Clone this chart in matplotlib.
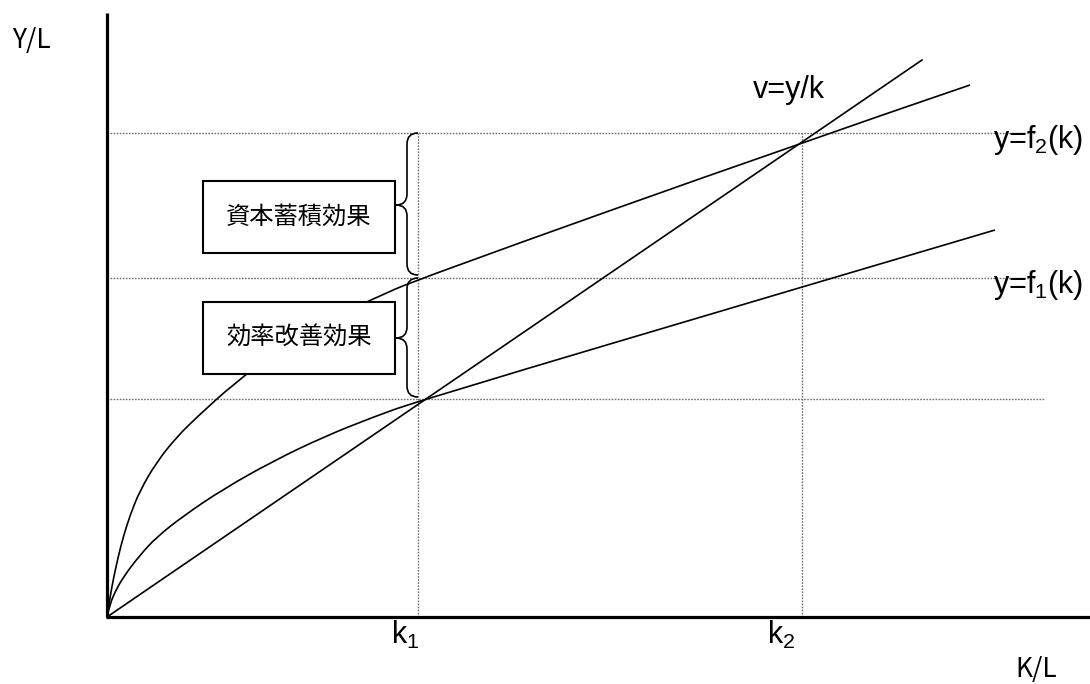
import matplotlib
matplotlib.use("Agg")
import matplotlib.pyplot as plt
from matplotlib.path import Path
from matplotlib.patches import PathPatch, Rectangle

plt.rcParams['mathtext.fontset'] = 'custom'
plt.rcParams['mathtext.rm'] = 'Liberation Sans'
plt.rcParams['mathtext.it'] = 'Liberation Sans'
plt.rcParams['mathtext.default'] = 'rm'

# ---------------- data ----------------
k1, k2 = 3.11, 6.95
level_low, level_mid, level_top = 2.18, 3.39, 4.84

k_f1 = [0, 0.03, 0.08, 0.163, 0.33, 0.497, 0.763, 1.163, 1.663, 2.163, 2.663, 3.11, 6.95, 8.88]
f1 = [0, 0.13, 0.25, 0.40, 0.62, 0.80, 1.01, 1.28, 1.56, 1.80, 2.00, 2.16, 3.30, 3.87]

k_f2 = [0, 0.03, 0.063, 0.113, 0.163, 0.23, 0.33, 0.497, 0.697, 0.90, 1.27,
        1.73, 2.23, 2.66, 3.11, 6.93, 8.63]
f2 = [0, 0.195, 0.377, 0.607, 0.802, 1.016, 1.266, 1.55, 1.80, 2.00, 2.335,
      2.68, 2.98, 3.18, 3.38, 4.74, 5.32]

k_v = [0, 8.15]
v = [0, 5.57]

box_labels = ["資本蓄積効果", "効率改善効果"]
curve_labels = ["v=y/k", "y=f$_2$(k)", "y=f$_1$(k)"]
tick_labels = ["k$_1$", "k$_2$"]
axis_labels = ["Y/L", "K/L"]

# ---------------- figure ----------------
fig = plt.figure(figsize=(10.9, 6.84), dpi=100)
ax = fig.add_axes([0, 0, 1, 1])
ax.set_xlim(-1.07, 9.83)
ax.set_ylim(-0.67, 6.17)
ax.axis('off')

dot = dict(color='#707070', lw=1.0, linestyle=(0, (1.2, 1.0)), zorder=1)
# horizontal guides
ax.plot([0, 9.38], [level_low, level_low], **dot)
ax.plot([0, 9.28], [level_mid, level_mid], **dot)
ax.plot([0, 9.28], [level_top, level_top], **dot)
# vertical guides
ax.plot([k1, k1], [0, level_top], **dot)
ax.plot([k2, k2], [0, level_top], **dot)


def smooth_curve(xs, ys, **kw):
    """Draw a smooth (quadratic B-spline) curve guided by the read points."""
    pts = list(zip(xs, ys))
    verts = [pts[0]]
    codes = [Path.MOVETO]
    for i in range(1, len(pts) - 1):
        mid = ((pts[i][0] + pts[i + 1][0]) / 2, (pts[i][1] + pts[i + 1][1]) / 2)
        if i == len(pts) - 2:
            mid = pts[i + 1]
        verts += [pts[i], mid]
        codes += [Path.CURVE3, Path.CURVE3]
    ax.add_patch(PathPatch(Path(verts, codes), facecolor='none', **kw))


lw_c = 1.2
smooth_curve(k_f1, f1, edgecolor='black', lw=lw_c, zorder=2)
smooth_curve(k_f2, f2, edgecolor='black', lw=lw_c, zorder=2)
ax.plot(k_v, v, color='black', lw=lw_c, zorder=2)

# axes
ax.plot([0, 0], [0, 6.04], color='black', lw=2.3, solid_capstyle='butt', zorder=4)
ax.plot([-0.012, 9.9], [0, 0], color='black', lw=2.3, solid_capstyle='butt', zorder=4)

# boxes
box_x0, box_x1 = 0.96, 2.88
boxes = [(3.64, 4.36), (2.43, 3.15)]
for (y0, y1), lab in zip(boxes, box_labels):
    ax.add_patch(Rectangle((box_x0, y0), box_x1 - box_x0, y1 - y0,
                           facecolor='white', edgecolor='black', lw=1.5, zorder=5))
    ax.text((box_x0 + box_x1) / 2, (y0 + y1) / 2, lab, ha='center', va='center',
            fontsize=17.5, family=['Noto Sans CJK JP', 'DejaVu Sans'], zorder=6)


# braces
def brace(x_end, x_vert, x_tip, y_top, y_mid, y_bot, r=0.11):
    verts = [(x_end, y_top), (x_vert, y_top), (x_vert, y_top - r),
             (x_vert, y_mid + r), (x_vert, y_mid), (x_tip, y_mid),
             (x_vert, y_mid), (x_vert, y_mid - r),
             (x_vert, y_bot + r), (x_vert, y_bot), (x_end, y_bot)]
    codes = [Path.MOVETO, Path.CURVE3, Path.CURVE3,
             Path.LINETO, Path.CURVE3, Path.CURVE3,
             Path.CURVE3, Path.CURVE3,
             Path.LINETO, Path.CURVE3, Path.CURVE3]
    ax.add_patch(PathPatch(Path(verts, codes), facecolor='none',
                           edgecolor='black', lw=1.2, zorder=5))


brace(3.11, 3.00, 2.89, 4.84, 4.12, 3.42)
brace(3.11, 3.00, 2.89, 3.39, 2.79, 2.20)

# labels
lat = dict(family=['Liberation Sans', 'DejaVu Sans'], fontsize=22, color='black')
ax.text(6.46, 5.19, curve_labels[0], ha='left', va='baseline', **lat)
ax.text(8.86, 4.69, curve_labels[1], ha='left', va='baseline', **lat)
ax.text(8.86, 3.24, curve_labels[2], ha='left', va='baseline', **lat)
ax.text(2.84, -0.27, tick_labels[0], ha='left', va='baseline', **lat)
ax.text(6.60, -0.27, tick_labels[1], ha='left', va='baseline', **lat)

cj = dict(family=['Noto Sans CJK JP', 'DejaVu Sans'], fontsize=19, color='black')
ax.text(-0.95, 5.69, axis_labels[0], ha='left', va='baseline', **cj)
ax.text(9.08, -0.60, axis_labels[1], ha='left', va='baseline', **cj)

fig.savefig("out.png", dpi=100)
